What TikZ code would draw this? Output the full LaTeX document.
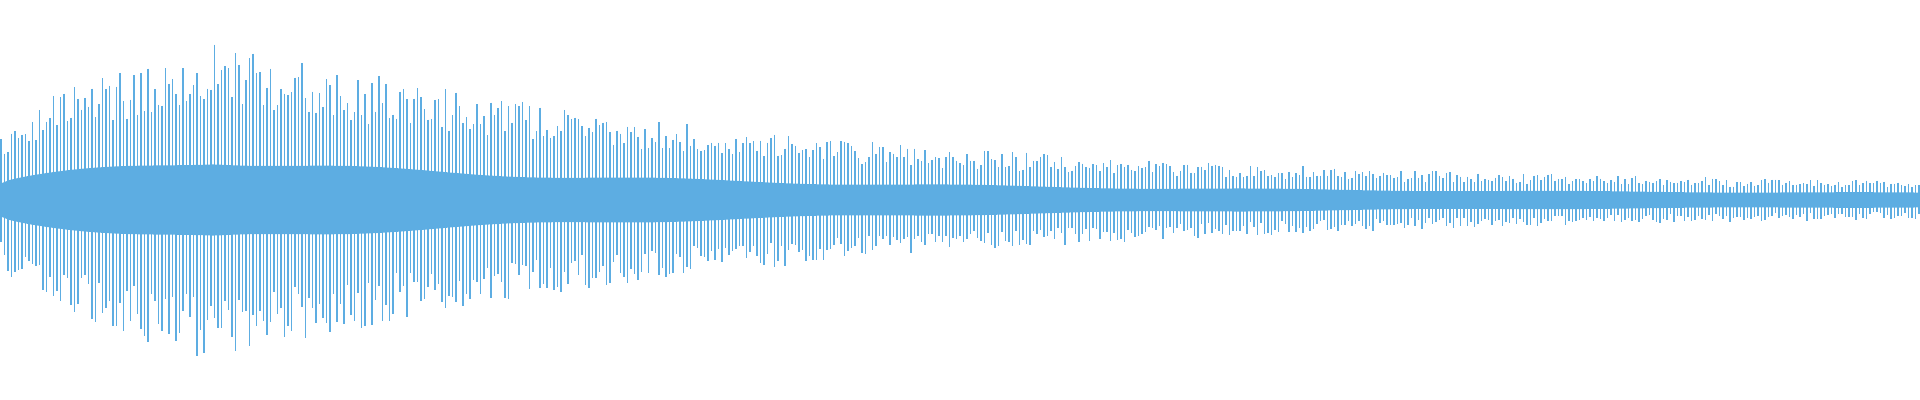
\documentclass[tikz,border=0pt]{standalone}
\begin{document}
\begin{tikzpicture}[x=0.01cm,y=-0.01cm]
\definecolor{wave}{HTML}{5DADE2}
\tikzset{wline/.style={draw=wave,line width=0.4pt}}
\useasboundingbox (0,0) rectangle (1920,400);
\pgfmathsetseed{7}
\fill[wave] plot[domain=0:1920,samples=200] (\x,{200-3-(0.22+0.02*sin(\x*1.2))*(\x<215 ? 60+103*pow(\x/215,0.6) : 12+151*exp(-(\x-215)/560))})
  -- plot[domain=1920:0,samples=200] (\x,{200+3+(0.22+0.02*sin(\x*1.2))*(\x<215 ? 60+103*pow(\x/215,0.6) : 12+151*exp(-(\x-215)/560))}) -- cycle;
\foreach \i in {0,...,548}{
  \pgfmathsetmacro\xx{1+\i*3.5}
  \pgfmathsetmacro\A{\xx<215 ? 60+103*pow(\xx/215,0.6) : 12+151*exp(-(\xx-215)/560)}
  \pgfmathsetmacro\ra{0.6+0.4*rnd}
  \pgfmathsetmacro\rb{0.6+0.4*rnd}
  \draw[wline] (\xx,{200-\A*\ra}) -- (\xx,{200+\A*\rb});
}
\end{tikzpicture}
\end{document}
